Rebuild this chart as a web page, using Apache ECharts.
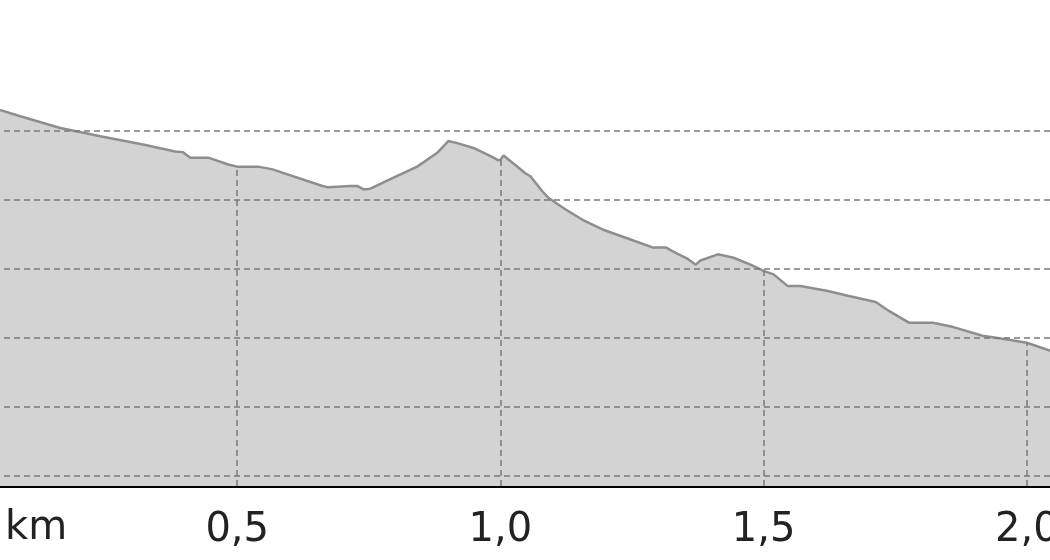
<!DOCTYPE html>
<html>
<head>
<meta charset="utf-8">
<script src="https://cdn.jsdelivr.net/npm/echarts@6/dist/echarts.min.js"></script>
<style>
  html, body { margin: 0; padding: 0; background: #fff; }
  #chart { width: 1050px; height: 560px; }
</style>
</head>
<body>
<div id="chart"></div>
<script>
// distance along the route (km) and elevation (m)
const distKm = [
  0.03, 0.049, 0.088, 0.164, 0.240, 0.321, 0.382, 0.397, 0.411, 0.445, 0.483,
  0.5, 0.540, 0.567, 0.662, 0.673, 0.715, 0.728, 0.740, 0.753, 0.797, 0.842,
  0.880, 0.901, 0.918, 0.949, 0.987, 0.996, 1.0, 1.006, 1.048, 1.057, 1.080,
  1.091, 1.124, 1.156, 1.194, 1.238, 1.289, 1.314, 1.333, 1.357, 1.371, 1.380,
  1.413, 1.443, 1.475, 1.5, 1.519, 1.546, 1.570, 1.622, 1.660, 1.713, 1.738,
  1.776, 1.821, 1.859, 1.916, 1.960, 2.0, 2.046, 2.06
];
const elevation = [
  163.5, 163.0, 162.1, 160.4, 159.2, 158.0, 157.0, 156.9, 156.1, 156.1, 155.1,
  154.8, 154.8, 154.4, 152.0, 151.8, 152.0, 152.0, 151.5, 151.6, 153.2, 154.8,
  156.8, 158.5, 158.2, 157.5, 156.1, 155.7, 155.8, 156.4, 153.8, 153.4, 151.2,
  150.3, 148.6, 147.1, 145.7, 144.5, 143.1, 143.1, 142.3, 141.4, 140.6, 141.2,
  142.1, 141.6, 140.6, 139.7, 139.2, 137.5, 137.5, 136.8, 136.1, 135.2, 133.9,
  132.2, 132.2, 131.6, 130.3, 129.8, 129.3, 128.1, 127.8
];
// x tick labels and the horizontal reference levels
const xTicks = [0.5, 1.0, 1.5, 2.0];
const elevLevels = [110, 120, 130, 140, 150, 160];
const axisUnit = 'km';

const yMin = 108.55;
const yMax = 178.93;

const lineData = distKm.map((d, i) => [d, elevation[i]]);

// vertical guides only under the profile: from the base up to the curve
const verticals = xTicks.map(t => {
  const idx = distKm.indexOf(t);
  return [{ coord: [t, yMin] }, { coord: [t, elevation[idx]] }];
});
const horizontals = elevLevels.map(v => ({ yAxis: v }));

var myChart = echarts.init(document.getElementById('chart'));
myChart.setOption({
  animation: false,
  grid: {
    left: -26,
    right: -240,
    top: 0,
    bottom: 74,
    containLabel: false,
    outerBoundsMode: 'none'
  },
  xAxis: {
    type: 'value',
    min: 0,
    max: 2.5,
    interval: 0.5,
    axisLine: {
      show: true,
      lineStyle: { color: '#000', width: 3 }
    },
    axisTick: { show: false },
    splitLine: { show: false },
    axisLabel: {
      margin: 25,
      fontSize: 40,
      fontFamily: 'DejaVu Sans',
      color: '#222',
      formatter: v => v === 0 ? '' : v.toFixed(1).replace('.', ',')
    }
  },
  yAxis: {
    type: 'value',
    min: yMin,
    max: yMax,
    axisLine: { show: false },
    axisTick: { show: false },
    axisLabel: { show: false },
    splitLine: { show: false }
  },
  graphic: [{
    type: 'text',
    left: 5,
    top: 509,
    style: {
      text: axisUnit,
      fontSize: 40,
      fontFamily: 'DejaVu Sans',
      fill: '#222'
    }
  }],
  series: [{
    type: 'line',
    data: lineData,
    showSymbol: false,
    smooth: false,
    lineStyle: { color: '#8e8e8e', width: 2.5 },
    areaStyle: { color: '#d3d3d3', opacity: 1 },
    markLine: {
      silent: true,
      symbol: 'none',
      label: { show: false },
      lineStyle: { color: '#7a7a7a', type: [6, 4], width: 1.5 },
      data: horizontals.concat(verticals)
    }
  }]
});
</script>
</body>
</html>
